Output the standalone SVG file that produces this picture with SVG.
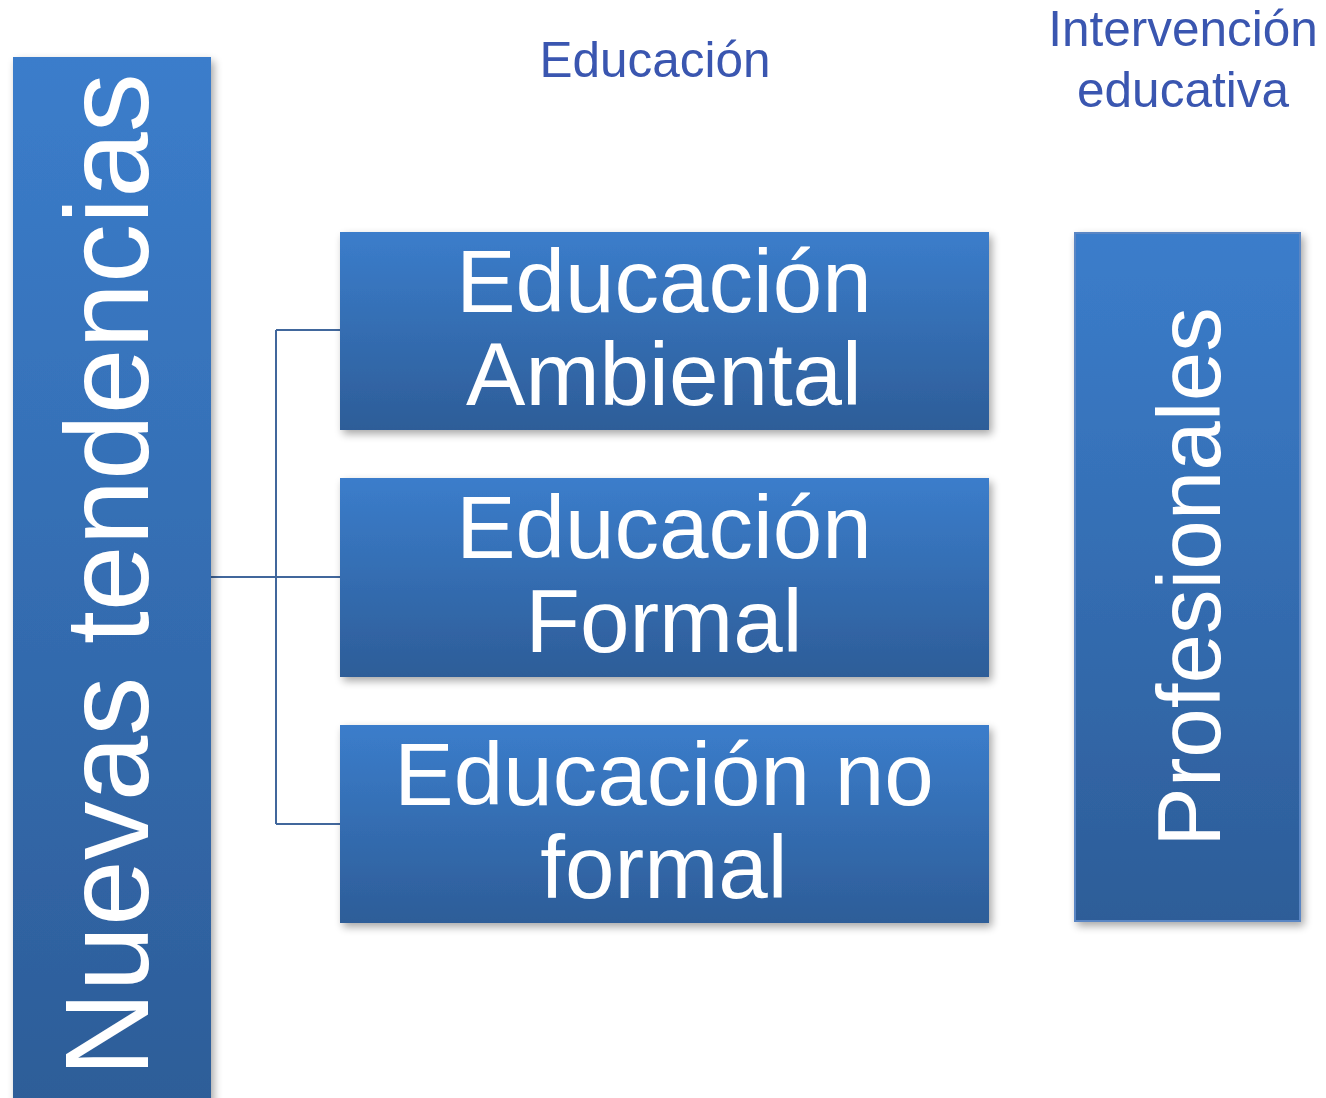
<svg xmlns="http://www.w3.org/2000/svg" width="1326" height="1098" viewBox="0 0 1326 1098">
<defs>
<linearGradient id="g" x1="0" y1="0" x2="0" y2="1">
<stop offset="0" stop-color="#3B7DCB"/>
<stop offset="1" stop-color="#2D5D98"/>
</linearGradient>
<filter id="sh" x="-10%" y="-10%" width="125%" height="125%">
<feGaussianBlur in="SourceAlpha" stdDeviation="4"/>
<feOffset dx="3" dy="4" result="b"/>
<feComponentTransfer><feFuncA type="linear" slope="0.35"/></feComponentTransfer>
<feMerge><feMergeNode/><feMergeNode in="SourceGraphic"/></feMerge>
</filter>
<style>
.box{fill:url(#g);filter:url(#sh)}
.wt{fill:#FFFFFF;font-family:"Liberation Sans",Arial,sans-serif;text-anchor:middle}
.hd{fill:#3A56B0;font-family:"Liberation Sans",Arial,sans-serif;font-size:49.5px;text-anchor:middle}
.cn{stroke:#41679C;stroke-width:2;fill:none}
</style>
</defs>
<rect width="1326" height="1098" fill="#FFFFFF"/>
<g id="connectors">
<path class="cn" d="M211 577 H340 M276 330 V824 M276 330 H340 M276 824 H340"/>
</g>
<g id="nuevas">
<rect class="box" x="13" y="57" width="198" height="1050"/>
<text class="wt" font-size="118" transform="translate(148 575) rotate(-90)">Nuevas tendencias</text>
</g>
<g id="ambiental">
<rect class="box" x="340" y="232" width="649" height="198"/>
<text class="wt" font-size="89" x="664" y="312">Educación</text>
<text class="wt" font-size="89" x="664" y="405">Ambiental</text>
</g>
<g id="formal">
<rect class="box" x="340" y="478" width="649" height="199"/>
<text class="wt" font-size="89" x="664" y="558">Educación</text>
<text class="wt" font-size="89" x="664" y="652">Formal</text>
</g>
<g id="noformal">
<rect class="box" x="340" y="725" width="649" height="198"/>
<text class="wt" font-size="89" x="664" y="805">Educación no</text>
<text class="wt" font-size="89" x="664" y="898">formal</text>
</g>
<g id="profesionales">
<rect class="box" x="1075" y="233" width="225" height="688" stroke="#5A86C4" stroke-width="2"/>
<text class="wt" font-size="89" transform="translate(1220 577) rotate(-90)">Profesionales</text>
</g>
<g id="educacion-label">
<text class="hd" x="655" y="77">Educación</text>
</g>
<g id="intervencion-label">
<text class="hd" x="1183" y="46">Intervención</text>
<text class="hd" x="1183" y="107">educativa</text>
</g>
</svg>
